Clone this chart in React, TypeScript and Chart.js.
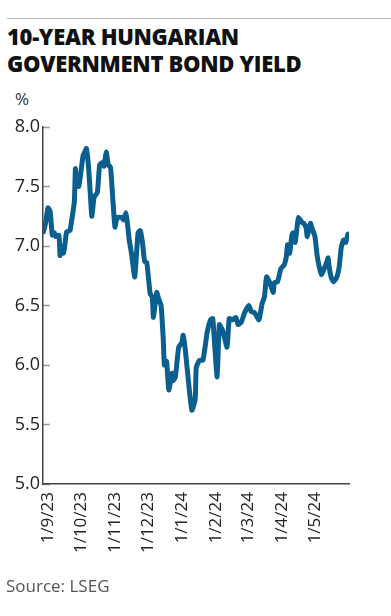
import { useEffect, useRef } from "react";
import { Chart, registerables } from "chart.js";

Chart.register(...registerables);

const dates = [
  "2023-08-28", "2023-08-30", "2023-09-01", "2023-09-03", "2023-09-05", "2023-09-07", "2023-09-08",
  "2023-09-11", "2023-09-12", "2023-09-13", "2023-09-15", "2023-09-16", "2023-09-18", "2023-09-21",
  "2023-09-22", "2023-09-25", "2023-09-26", "2023-09-27", "2023-09-29", "2023-10-01", "2023-10-03",
  "2023-10-05", "2023-10-06", "2023-10-08", "2023-10-10", "2023-10-11", "2023-10-13", "2023-10-16",
  "2023-10-18", "2023-10-20", "2023-10-22", "2023-10-24", "2023-10-26", "2023-10-28", "2023-10-30",
  "2023-11-01", "2023-11-03", "2023-11-07", "2023-11-09", "2023-11-11", "2023-11-12", "2023-11-14",
  "2023-11-16", "2023-11-19", "2023-11-22", "2023-11-24", "2023-11-26", "2023-11-28", "2023-11-30",
  "2023-12-03", "2023-12-05", "2023-12-06", "2023-12-09", "2023-12-11", "2023-12-13", "2023-12-15",
  "2023-12-16", "2023-12-18", "2023-12-20", "2023-12-23", "2023-12-24", "2023-12-26", "2023-12-29",
  "2024-01-01", "2024-01-02", "2024-01-04", "2024-01-07", "2024-01-10", "2024-01-13", "2024-01-14",
  "2024-01-17", "2024-01-20", "2024-01-22", "2024-01-24", "2024-01-27", "2024-01-29", "2024-01-30",
  "2024-02-02", "2024-02-04", "2024-02-07", "2024-02-11", "2024-02-13", "2024-02-16", "2024-02-19",
  "2024-02-21", "2024-02-24", "2024-02-27", "2024-03-02", "2024-03-04", "2024-03-07", "2024-03-11",
  "2024-03-14", "2024-03-16", "2024-03-18", "2024-03-21", "2024-03-24", "2024-03-25", "2024-03-28",
  "2024-03-31", "2024-04-03", "2024-04-05", "2024-04-06", "2024-04-08", "2024-04-10", "2024-04-11",
  "2024-04-13", "2024-04-15", "2024-04-16", "2024-04-19", "2024-04-21", "2024-04-23", "2024-04-24",
  "2024-04-27", "2024-04-28", "2024-05-01", "2024-05-03", "2024-05-05", "2024-05-07", "2024-05-09",
  "2024-05-12", "2024-05-13", "2024-05-14", "2024-05-16", "2024-05-18", "2024-05-21", "2024-05-23",
  "2024-05-25", "2024-05-27", "2024-05-29", "2024-05-31",
];

const yields = [
  7.12, 7.2, 7.32, 7.29, 7.09, 7.11, 7.08,
  7.09, 6.92, 7.0, 6.94, 6.98, 7.12, 7.13,
  7.18, 7.37, 7.65, 7.51, 7.5, 7.62, 7.76,
  7.8, 7.82, 7.66, 7.37, 7.25, 7.41, 7.45,
  7.68, 7.7, 7.67, 7.79, 7.68, 7.66, 7.4,
  7.16, 7.24, 7.24, 7.22, 7.28, 7.22, 7.05,
  6.94, 6.74, 7.11, 7.13, 7.03, 6.87, 6.86,
  6.6, 6.57, 6.4, 6.61, 6.55, 6.5, 6.21,
  6.0, 6.03, 5.79, 5.93, 5.87, 5.9, 6.15,
  6.19, 6.25, 6.13, 5.85, 5.62, 5.71, 5.98,
  6.04, 6.04, 6.15, 6.28, 6.38, 6.39, 6.27,
  5.9, 6.34, 6.29, 6.15, 6.39, 6.38, 6.4,
  6.34, 6.36, 6.44, 6.5, 6.45, 6.44, 6.38,
  6.52, 6.57, 6.74, 6.69, 6.61, 6.69, 6.7,
  6.81, 6.84, 6.91, 7.01, 6.94, 7.09, 7.11,
  7.03, 7.18, 7.24, 7.2, 7.19, 7.15, 7.08,
  7.19, 7.16, 7.08, 6.92, 6.82, 6.76, 6.8,
  6.87, 6.9, 6.82, 6.73, 6.7, 6.74, 6.82,
  6.99, 7.05, 7.03, 7.1,
];

const tickDates = [
  "2023-09-01", "2023-10-01", "2023-11-01", "2023-12-01", "2024-01-01",
  "2024-02-01", "2024-03-01", "2024-04-01", "2024-05-01",
];
const tickLabels = ["1/9/23", "1/10/23", "1/11/23", "1/12/23", "1/1/24", "1/2/24", "1/3/24", "1/4/24", "1/5/24"];
const yTicks = [5.0, 5.5, 6.0, 6.5, 7.0, 7.5, 8.0];

const xStart = "2023-08-27";
const xEnd = "2024-06-01";

const ORIGIN = Date.UTC(2023, 8, 1);
function dayOf(s: string): number {
  const [y, m, d] = s.split("-").map(Number);
  return (Date.UTC(y, m - 1, d) - ORIGIN) / 86400000;
}

const FONT = "'Open Sans', 'DejaVu Sans', sans-serif";

export default function App() {
  const ref = useRef<HTMLCanvasElement | null>(null);

  useEffect(() => {
    if (!ref.current) return;
    const chart = new Chart(ref.current, {
      type: "line",
      data: {
        datasets: [
          {
            data: dates.map((d, i) => ({ x: dayOf(d), y: yields[i] })),
            borderColor: "#0b5f8f",
            borderWidth: 5,
            pointRadius: 0,
            tension: 0.15,
            borderJoinStyle: "round",
            borderCapStyle: "round",
          },
        ],
      },
      options: {
        animation: false,
        responsive: false,
        devicePixelRatio: 1,
        layout: { padding: { top: 127, right: 42, bottom: 52, left: 0 } },
        plugins: { legend: { display: false }, tooltip: { enabled: false } },
        scales: {
          x: {
            type: "linear",
            min: dayOf(xStart) + 0.5,
            max: dayOf(xEnd),
            afterBuildTicks: (s: any) => {
              s.ticks = tickDates.map((d) => ({ value: dayOf(d) }));
            },
            afterFit: (s: any) => {
              s.height = 80;
            },
            ticks: {
              autoSkip: false,
              minRotation: 90,
              maxRotation: 90,
              padding: 8,
              color: "#222",
              font: { family: FONT, size: 17 },
              callback: (_v: any, i: number) => tickLabels[i],
            },
            grid: { drawOnChartArea: false, drawTicks: false },
            border: { display: true, color: "#444", width: 1.5 },
          },
          y: {
            min: 5,
            max: 8,
            afterBuildTicks: (s: any) => {
              s.ticks = yTicks.map((v) => ({ value: v }));
            },
            afterFit: (s: any) => {
              s.width = 43;
            },
            ticks: {
              padding: 10,
              color: "#222",
              font: { family: FONT, size: 18 },
              callback: (v: any) => Number(v).toFixed(1),
            },
            grid: { drawOnChartArea: false, drawTicks: true, tickLength: -7, color: "#999", tickWidth: 1.5 },
            border: { display: true, color: "#444", width: 1.5 },
          },
        },
      },
    });
    return () => chart.destroy();
  }, []);

  return (
    <div style={{ position: "absolute", left: 0, top: 0, width: 391, height: 616, background: "#fff", fontFamily: FONT }}>
      <div style={{ position: "absolute", left: 7, right: 0, top: 18, height: 1, background: "#bbb" }} />
      <div
        style={{
          position: "absolute",
          left: 7,
          top: 23,
          fontSize: 22,
          lineHeight: "27px",
          fontWeight: 800,
          color: "#111",
          letterSpacing: "-0.3px",
        }}
      >
        10-YEAR HUNGARIAN
        <br />
        GOVERNMENT BOND YIELD
      </div>
      <div style={{ position: "absolute", left: 15, top: 89, fontSize: 17, lineHeight: "20px", color: "#333" }}>%</div>
      <canvas ref={ref} width={391} height={616} style={{ position: "absolute", left: 0, top: 0, width: 391, height: 616 }} />
      <div style={{ position: "absolute", left: 6, top: 576, fontSize: 17, lineHeight: "20px", color: "#555" }}>
        Source: LSEG
      </div>
    </div>
  );
}
